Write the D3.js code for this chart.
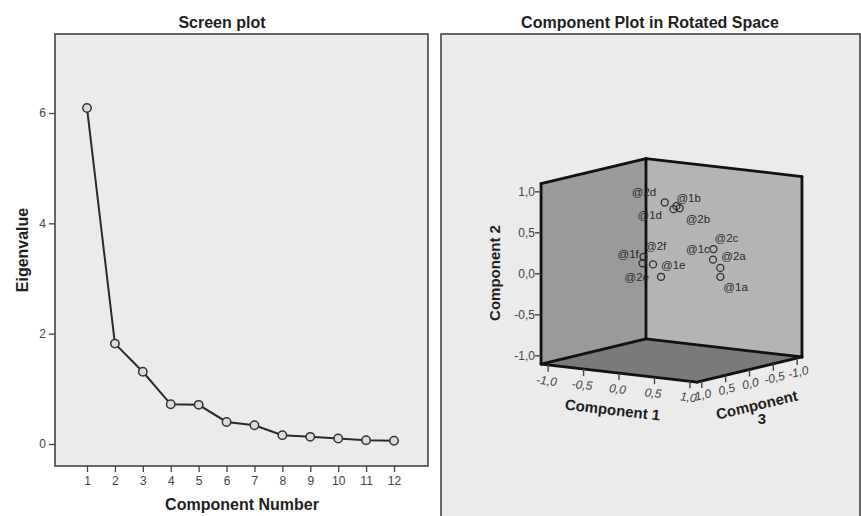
<!DOCTYPE html>
<html>
<head>
<meta charset="utf-8">
<script src="https://cdnjs.cloudflare.com/ajax/libs/d3/7.8.5/d3.min.js"></script>
<style>
  body { margin: 0; background: #fff; }
  text { font-family: Arial, "Liberation Sans", sans-serif; }
</style>
</head>
<body>
<div class="container"></div>
<script>
  var width = 861,
    height = 516;

  // scree plot data
  var components = [1, 2, 3, 4, 5, 6, 7, 8, 9, 10, 11, 12];
  var eigenvalues = [6.09, 1.82, 1.31, 0.72, 0.71, 0.40, 0.34, 0.16, 0.13, 0.10, 0.07, 0.06];
  var eigenTicks = [0, 2, 4, 6];

  // rotated loadings
  var variables = ["@2d", "@1d", "@1b", "@2b", "@2c", "@1c", "@2a", "@1a", "@1f", "@2e", "@2f", "@1e"];
  var comp1 = [0.14, 0.23, 0.17, 0.25, 0.76, 0.72, 0.89, 0.79, 0.11, 0.13, 0.21, 0.29];
  var comp2 = [0.89, 0.81, 0.82, 0.81, 0.37, 0.23, 0.16, 0.02, 0.28, 0.21, 0.19, 0.04];
  var comp3 = [0.35, 0.30, 0.15, 0.20, 0.25, 0.20, 0.30, 0.15, 0.75, 0.80, 0.70, 0.65];
  var loadTicks = [-1, -0.5, 0, 0.5, 1];

  // where each label sits relative to its marker
  var labelDx = [-33, -36, 0, 6, 1, -27, 1, 3, -26, -18, -8, 0];
  var labelDy = [-10, 6, -8, 11, -11, -11, -12, 10, -3, 14, -18, -12];

  var svg = d3.select(".container").append("svg")
    .attr("width", width)
    .attr("height", height);

  var fmt = function(v) { return d3.format(".1f")(v).replace(".", ",").replace("−", "-"); };

  function boldText(sel, size) {
    return sel.attr("text-anchor", "middle")
      .attr("font-size", size)
      .attr("font-weight", "bold")
      .attr("fill", "#1e1e1e");
  }

  // ---------- left panel: scree plot ----------
  var frame = { left: 55, right: 428, top: 34, bottom: 466 };

  var x = d3.scaleLinear().domain([1, 12]).range([87, 394]);
  var y = d3.scaleLinear().domain([0, 6]).range([444, 113]);

  svg.append("rect")
    .attr("x", frame.left)
    .attr("y", frame.top)
    .attr("width", frame.right - frame.left)
    .attr("height", frame.bottom - frame.top)
    .attr("fill", "#ebebeb")
    .attr("stroke", "#444")
    .attr("stroke-width", 1.6);

  svg.append("text")
    .attr("x", 222)
    .attr("y", 28)
    .call(boldText, 16)
    .text("Screen plot");

  var xAxis = svg.append("g")
    .attr("transform", "translate(0," + frame.bottom + ")")
    .call(d3.axisBottom(x).tickValues(components).tickSize(6).tickPadding(4));
  var yAxis = svg.append("g")
    .attr("transform", "translate(" + frame.left + ",0)")
    .call(d3.axisLeft(y).tickValues(eigenTicks).tickFormat(d3.format("d")).tickSize(6).tickPadding(3));

  [xAxis, yAxis].forEach(function(a) {
    a.select(".domain").remove();
    a.selectAll("line").attr("stroke", "#444").attr("stroke-width", 1.3);
    a.selectAll("text").attr("font-size", 12).attr("fill", "#444")
      .style("font-family", "Arial, 'Liberation Sans', sans-serif");
  });

  svg.append("text")
    .attr("x", 242)
    .attr("y", 510)
    .call(boldText, 16)
    .text("Component Number");

  svg.append("text")
    .attr("transform", "translate(28,250) rotate(-90)")
    .call(boldText, 16)
    .text("Eigenvalue");

  var line = d3.line()
    .x(function(d, i) { return x(components[i]); })
    .y(function(d) { return y(d); });

  svg.append("path")
    .datum(eigenvalues)
    .attr("d", line)
    .attr("fill", "none")
    .attr("stroke", "#2a2a2a")
    .attr("stroke-width", 2);

  svg.selectAll(".scree-dot")
    .data(eigenvalues)
    .enter().append("circle")
    .attr("class", "scree-dot")
    .attr("cx", function(d, i) { return x(components[i]); })
    .attr("cy", function(d) { return y(d); })
    .attr("r", 4.2)
    .attr("fill", "#dcdcdc")
    .attr("stroke", "#333")
    .attr("stroke-width", 1.5);

  // ---------- right panel: 3D component plot ----------
  var frame2 = { left: 441, right: 860, top: 34, bottom: 530 };

  svg.append("rect")
    .attr("x", frame2.left)
    .attr("y", frame2.top)
    .attr("width", frame2.right - frame2.left)
    .attr("height", frame2.bottom - frame2.top)
    .attr("fill", "#ebebeb")
    .attr("stroke", "#444")
    .attr("stroke-width", 1.6);

  svg.append("text")
    .attr("x", 650)
    .attr("y", 28)
    .call(boldText, 16)
    .text("Component Plot in Rotated Space");

  var m = 1.1; // cube half size
  var origin = [671.5, 270.3];
  // each axis contributes a screen offset
  var c1x = d3.scaleLinear().domain([-1, 1]).range([-70.9, 70.9]),
    c1y = d3.scaleLinear().domain([-1, 1]).range([-8.2, 8.2]),
    c2y = d3.scaleLinear().domain([-1, 1]).range([82, -82]),
    c3x = d3.scaleLinear().domain([-1, 1]).range([47.7, -47.7]),
    c3y = d3.scaleLinear().domain([-1, 1]).range([-11.4, 11.4]);

  function project(a, b, c) {
    return [origin[0] + c1x(a) + c3x(c), origin[1] + c1y(a) + c2y(b) + c3y(c)];
  }

  var faces = [
    { fill: "#7a7a7a", pts: [[-m, -m, m], [m, -m, m], [m, -m, -m], [-m, -m, -m]] },
    { fill: "#9a9a9a", pts: [[-m, -m, m], [-m, m, m], [-m, m, -m], [-m, -m, -m]] },
    { fill: "#b4b4b4", pts: [[-m, -m, -m], [-m, m, -m], [m, m, -m], [m, -m, -m]] }
  ];

  var cube = svg.append("g").attr("class", "cube");

  cube.selectAll(".face")
    .data(faces)
    .enter().append("polygon")
    .attr("class", "face")
    .attr("points", function(d) {
      return d.pts.map(function(p) { return project(p[0], p[1], p[2]).join(","); }).join(" ");
    })
    .attr("fill", function(d) { return d.fill; });

  var edges = [
    [[-m, -m, m], [-m, m, m]],
    [[-m, -m, -m], [-m, m, -m]],
    [[m, -m, -m], [m, m, -m]],
    [[-m, m, m], [-m, m, -m]],
    [[-m, m, -m], [m, m, -m]],
    [[-m, -m, m], [m, -m, m]],
    [[m, -m, m], [m, -m, -m]],
    [[-m, -m, m], [-m, -m, -m]],
    [[-m, -m, -m], [m, -m, -m]]
  ];

  cube.selectAll(".edge")
    .data(edges)
    .enter().append("line")
    .attr("class", "edge")
    .attr("x1", function(d) { return project(d[0][0], d[0][1], d[0][2])[0]; })
    .attr("y1", function(d) { return project(d[0][0], d[0][1], d[0][2])[1]; })
    .attr("x2", function(d) { return project(d[1][0], d[1][1], d[1][2])[0]; })
    .attr("y2", function(d) { return project(d[1][0], d[1][1], d[1][2])[1]; })
    .attr("stroke", "#111")
    .attr("stroke-width", 2.8)
    .attr("stroke-linecap", "round");

  // component 2 ticks on the left vertical edge
  var ax2 = svg.append("g");
  ax2.selectAll("line")
    .data(loadTicks)
    .enter().append("line")
    .attr("x1", function(d) { return project(-m, d, m)[0] - 6; })
    .attr("x2", function(d) { return project(-m, d, m)[0]; })
    .attr("y1", function(d) { return project(-m, d, m)[1]; })
    .attr("y2", function(d) { return project(-m, d, m)[1]; })
    .attr("stroke", "#444")
    .attr("stroke-width", 1.4);
  ax2.selectAll("text")
    .data(loadTicks)
    .enter().append("text")
    .attr("x", function(d) { return project(-m, d, m)[0] - 6; })
    .attr("y", function(d) { return project(-m, d, m)[1] + 4; })
    .attr("text-anchor", "end")
    .attr("font-size", 12)
    .attr("fill", "#444")
    .text(fmt);

  // component 1 ticks on the front-left floor edge
  var ang1 = Math.atan2(c1y(1) - c1y(0), c1x(1) - c1x(0)) * 180 / Math.PI;
  var ax1 = svg.append("g");
  ax1.selectAll("line")
    .data(loadTicks)
    .enter().append("line")
    .attr("x1", function(d) { return project(d, -m, m)[0]; })
    .attr("x2", function(d) { return project(d, -m, m)[0]; })
    .attr("y1", function(d) { return project(d, -m, m)[1]; })
    .attr("y2", function(d) { return project(d, -m, m)[1] + 7; })
    .attr("stroke", "#444")
    .attr("stroke-width", 1.4);
  ax1.selectAll("text")
    .data(loadTicks)
    .enter().append("text")
    .attr("transform", function(d) {
      var p = project(d, -m, m);
      return "translate(" + (p[0] - 2) + "," + (p[1] + 20) + ") rotate(" + ang1 + ")";
    })
    .attr("text-anchor", "middle")
    .attr("font-size", 12)
    .attr("font-style", "italic")
    .attr("fill", "#444")
    .text(fmt);

  // component 3 ticks on the front-right floor edge
  var ang3 = Math.atan2(c3y(-1) - c3y(0), c3x(-1) - c3x(0)) * 180 / Math.PI;
  var ax3 = svg.append("g");
  ax3.selectAll("line")
    .data(loadTicks)
    .enter().append("line")
    .attr("x1", function(d) { return project(m, -m, d)[0]; })
    .attr("x2", function(d) { return project(m, -m, d)[0]; })
    .attr("y1", function(d) { return project(m, -m, d)[1]; })
    .attr("y2", function(d) { return project(m, -m, d)[1] + 7; })
    .attr("stroke", "#444")
    .attr("stroke-width", 1.4);
  ax3.selectAll("text")
    .data(loadTicks)
    .enter().append("text")
    .attr("transform", function(d) {
      var p = project(m, -m, d);
      return "translate(" + (p[0] + 2) + "," + (p[1] + 18) + ") rotate(" + ang3 + ")";
    })
    .attr("text-anchor", "middle")
    .attr("font-size", 12)
    .attr("font-style", "italic")
    .attr("fill", "#444")
    .text(fmt);

  // axis titles
  svg.append("text")
    .attr("transform", "translate(612,415) rotate(" + ang1 + ")")
    .call(boldText, 15)
    .text("Component 1");

  svg.append("text")
    .attr("transform", "translate(758,410) rotate(" + ang3 + ")")
    .call(boldText, 15)
    .text("Component");
  svg.append("text")
    .attr("x", 762)
    .attr("y", 424)
    .call(boldText, 15)
    .text("3");

  svg.append("text")
    .attr("transform", "translate(500,273) rotate(-90)")
    .call(boldText, 15)
    .text("Component 2");

  // points and labels
  var pts = variables.map(function(v, i) {
    var p = project(comp1[i], comp2[i], comp3[i]);
    return { name: v, x: p[0], y: p[1], dx: labelDx[i], dy: labelDy[i] };
  });

  var pointG = svg.append("g");
  pointG.selectAll("circle")
    .data(pts)
    .enter().append("circle")
    .attr("cx", function(d) { return d.x; })
    .attr("cy", function(d) { return d.y; })
    .attr("r", 3.5)
    .attr("fill", "none")
    .attr("stroke", "#2e2e2e")
    .attr("stroke-width", 1.3);

  pointG.selectAll("text")
    .data(pts)
    .enter().append("text")
    .attr("x", function(d) { return d.x + d.dx; })
    .attr("y", function(d) { return d.y + d.dy + 4; })
    .attr("font-size", 11.5)
    .attr("fill", "#2a2a2a")
    .text(function(d) { return d.name; });
</script>
</body>
</html>
